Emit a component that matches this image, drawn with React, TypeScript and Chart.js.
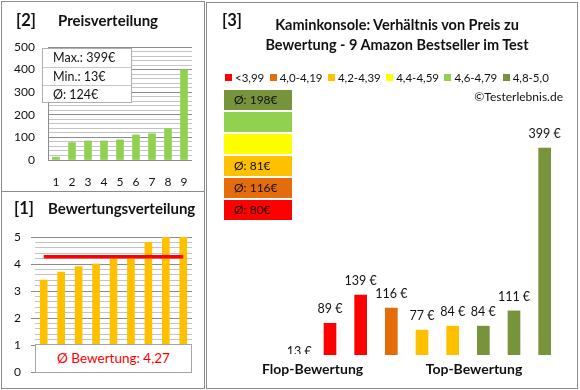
import React, { useEffect, useRef } from 'react';
import { Chart, registerables } from 'chart.js';
Chart.register(...registerables);

// ---------- data ----------
const classLabels = ['<3,99', '4,0-4,19', '4,2-4,39', '4,4-4,59', '4,6-4,79', '4,8-5,0'];
const classColors = ['#FF0000', '#E46C0A', '#FFC000', '#FFFF00', '#92D050', '#77933C'];
const classLower = [0, 4.0, 4.2, 4.4, 4.6, 4.8];
const productRatings = [3.4, 3.7, 3.9, 4.0, 4.2, 4.2, 4.8, 5.0, 5.0];
const productPrices = [13, 89, 139, 116, 77, 84, 84, 111, 399];
const sortedPrices = [13, 77, 84, 84, 89, 111, 116, 139, 399];
const rankLabels = ['1', '2', '3', '4', '5', '6', '7', '8', '9'];
const averageRating = 4.27;
const averageRatingText = '4,27';
const priceAxis = [0, 500];
const ratingAxis = [0, 5];
const mainAxis = [33, 500];
const groupLabels = ['Flop-Bewertung', 'Top-Bewertung'];

const FONT = 'Lato, "Noto Sans", "DejaVu Sans", sans-serif';
const GRID_MAJOR = '#8c8c8c';
const GRID_MINOR = '#c4c4c4';

const classOf = (r: number) => {
  let k = 0;
  classLower.forEach((lo, i) => { if (r >= lo - 1e-9) k = i; });
  return k;
};
const isWhole = (v: number, step: number) => Math.abs(v / step - Math.round(v / step)) < 1e-6;

const priceSummary = {
  max: Math.max(...sortedPrices),
  min: Math.min(...sortedPrices),
  avg: Math.round(sortedPrices.reduce((a, b) => a + b, 0) / sortedPrices.length),
};

const classAverages = classLabels.map((_, k) => {
  const vals = productPrices.filter((_, i) => classOf(productRatings[i]) === k);
  return vals.length ? Math.round(vals.reduce((a, b) => a + b, 0) / vals.length) : null;
});

// ---------- plugins ----------
const avgLinePlugin = {
  id: 'avgLine',
  afterDatasetsDraw(chart: any) {
    const meta = chart.getDatasetMeta(0);
    const first = meta.data[0];
    const last = meta.data[meta.data.length - 1];
    const y = chart.scales.y.getPixelForValue(averageRating);
    const ctx = chart.ctx;
    ctx.save();
    ctx.strokeStyle = '#FF0000';
    ctx.lineWidth = 3.5;
    ctx.beginPath();
    ctx.moveTo(first.x, y);
    ctx.lineTo(last.x, y);
    ctx.stroke();
    ctx.restore();
  },
};

const barLabelPlugin = {
  id: 'barLabels',
  afterDatasetsDraw(chart: any) {
    const { ctx, chartArea } = chart;
    const meta = chart.getDatasetMeta(0);
    const data = chart.data.datasets[0].data;
    ctx.save();
    ctx.beginPath();
    ctx.rect(chartArea.left - 30, chartArea.top - 80, chartArea.right - chartArea.left + 60, chartArea.bottom - chartArea.top + 79);
    ctx.clip();
    ctx.font = `12.5px ${FONT}`;
    ctx.fillStyle = '#111';
    ctx.textAlign = 'center';
    ctx.textBaseline = 'middle';
    meta.data.forEach((bar: any, i: number) => {
      ctx.fillText(`${data[i]} €`, bar.x, bar.y - 14);
    });
    ctx.restore();
  },
};

// ---------- configs ----------
function priceConfig(): any {
  return {
    type: 'bar',
    data: {
      labels: rankLabels,
      datasets: [{ data: sortedPrices, backgroundColor: '#92D050', barThickness: 7 }],
    },
    options: {
      animation: false,
      responsive: false,
      devicePixelRatio: 1,
      layout: { padding: { left: 8, right: 388, top: 47, bottom: 200 } },
      plugins: { legend: { display: false }, tooltip: { enabled: false } },
      scales: {
        x: {
          grid: { display: false, drawTicks: false },
          border: { display: false },
          ticks: { font: { family: FONT, size: 12 }, color: '#111', padding: 15 },
          afterFit: (s: any) => { s.height = 30; },
        },
        y: {
          min: priceAxis[0],
          max: priceAxis[1],
          ticks: {
            stepSize: 20,
            autoSkip: false,
            callback: (v: number) => (isWhole(v, 100) ? String(v) : ''),
            padding: 13,
            font: { family: FONT, size: 12 },
            color: '#111',
          },
          grid: {
            drawTicks: false,
            color: (c: any) => (c.tick && isWhole(c.tick.value, 100) ? GRID_MAJOR : GRID_MINOR),
          },
          border: { display: true, color: GRID_MAJOR },
          afterFit: (s: any) => { s.width = 40; },
        },
      },
    },
  };
}

function ratingConfig(): any {
  return {
    type: 'bar',
    data: {
      labels: rankLabels,
      datasets: [{ data: productRatings, backgroundColor: '#FFC000', barThickness: 7 }],
    },
    plugins: [avgLinePlugin],
    options: {
      animation: false,
      responsive: false,
      devicePixelRatio: 1,
      layout: { padding: { left: 10, right: 388, top: 237, bottom: 18 } },
      plugins: { legend: { display: false }, tooltip: { enabled: false } },
      scales: {
        x: { display: false },
        y: {
          min: ratingAxis[0],
          max: ratingAxis[1],
          ticks: {
            stepSize: 0.2,
            autoSkip: false,
            callback: (v: number) => (isWhole(v, 1) ? String(Math.round(v)) : ''),
            padding: 10,
            font: { family: FONT, size: 12 },
            color: '#111',
          },
          grid: {
            drawTicks: true,
            tickLength: 4,
            color: (c: any) => (c.tick && isWhole(c.tick.value, 1) ? GRID_MAJOR : GRID_MINOR),
            tickColor: (c: any) => (c.tick && isWhole(c.tick.value, 1) ? GRID_MAJOR : 'rgba(0,0,0,0)'),
          },
          border: { display: false },
          afterFit: (s: any) => { s.width = 25; },
        },
      },
    },
  };
}

function mainConfig(): any {
  return {
    type: 'bar',
    data: {
      labels: rankLabels,
      datasets: [{
        data: productPrices,
        backgroundColor: productRatings.map((r) => classColors[classOf(r)]),
        barThickness: 12,
      }],
    },
    plugins: [barLabelPlugin],
    options: {
      animation: false,
      responsive: false,
      devicePixelRatio: 1,
      layout: { padding: { left: 284, right: 20, top: 91, bottom: 35 } },
      plugins: { legend: { display: false }, tooltip: { enabled: false } },
      scales: {
        x: { display: false },
        y: { display: false, min: mainAxis[0], max: mainAxis[1] },
      },
    },
  };
}

// ---------- component ----------
const abs = (extra: React.CSSProperties): React.CSSProperties => ({
  position: 'absolute',
  whiteSpace: 'nowrap',
  fontFamily: FONT,
  color: '#111',
  ...extra,
});

export default function App() {
  const c1 = useRef<HTMLCanvasElement>(null);
  const c2 = useRef<HTMLCanvasElement>(null);
  const c3 = useRef<HTMLCanvasElement>(null);

  useEffect(() => {
    const charts = [
      new Chart(c1.current as HTMLCanvasElement, priceConfig()),
      new Chart(c2.current as HTMLCanvasElement, ratingConfig()),
      new Chart(c3.current as HTMLCanvasElement, mainConfig()),
    ];
    return () => charts.forEach((c) => c.destroy());
  }, []);

  const canvasStyle: React.CSSProperties = { position: 'absolute', left: 0, top: 0, width: 580, height: 390 };
  const border = '1px solid #8c8c8c';

  return (
    <div style={{ position: 'fixed', left: 0, top: 0, width: 580, height: 390, background: '#fff', overflow: 'hidden' }}>
      {/* panel frames */}
      <div style={{ position: 'absolute', left: 1, top: 1, width: 204, height: 191, border, boxSizing: 'border-box' }} />
      <div style={{ position: 'absolute', left: 1, top: 191, width: 204, height: 198, border, boxSizing: 'border-box' }} />
      <div style={{ position: 'absolute', left: 206, top: 2, width: 372, height: 387, border, boxSizing: 'border-box' }} />

      <canvas ref={c1} width={580} height={390} style={canvasStyle} />
      <canvas ref={c2} width={580} height={390} style={canvasStyle} />
      <canvas ref={c3} width={580} height={390} style={canvasStyle} />

      {/* panel 2 */}
      <div style={abs({ left: 16, top: 9, fontSize: 16.5, fontWeight: 700, lineHeight: '22px' })}>[2]</div>
      <div style={abs({ left: 58, top: 10, fontSize: 15, fontWeight: 700, lineHeight: '20px' })}>Preisverteilung</div>
      <div style={abs({ left: 42, top: 48, width: 90, height: 55, background: '#fff', border: '1px solid #b0b0b0', boxSizing: 'border-box', fontSize: 12.5 })}>
        <div style={{ height: 18, lineHeight: '18px', paddingLeft: 10, borderBottom: '1px solid #c8c8c8' }}>Max.: {priceSummary.max}€</div>
        <div style={{ height: 17, lineHeight: '17px', paddingLeft: 10, borderBottom: '1px solid #c8c8c8' }}>Min.: {priceSummary.min}€</div>
        <div style={{ height: 17, lineHeight: '17px', paddingLeft: 10 }}>Ø: {priceSummary.avg}€</div>
      </div>

      {/* panel 1 */}
      <div style={abs({ left: 14, top: 197, fontSize: 16.5, fontWeight: 700, lineHeight: '22px' })}>[1]</div>
      <div style={abs({ left: 48, top: 198, fontSize: 15, fontWeight: 700, lineHeight: '20px' })}>Bewertungsverteilung</div>
      <div style={abs({ left: 35, top: 344, width: 157, height: 29, background: '#fff', border: '1px solid #a6a6a6', boxSizing: 'border-box', color: '#FF0000', fontSize: 13.5, lineHeight: '27px', textAlign: 'center' })}>
        Ø Bewertung: {averageRatingText}
      </div>

      {/* panel 3 */}
      <div style={abs({ left: 222, top: 9, fontSize: 16.5, fontWeight: 700, lineHeight: '22px' })}>[3]</div>
      <div style={abs({ left: 247, top: 15, width: 300, fontSize: 14.5, fontWeight: 700, lineHeight: '20px', textAlign: 'center' })}>
        Kaminkonsole: Verhältnis von Preis zu<br />Bewertung - 9 Amazon Bestseller im Test
      </div>
      <div style={abs({ left: 225, top: 70, height: 14, display: 'flex', alignItems: 'center', fontSize: 11.5 })}>
        {classLabels.map((l, i) => (
          <div key={l} style={{ display: 'flex', alignItems: 'center', marginRight: 5.4 }}>
            <div style={{ width: 7, height: 7, background: classColors[i], marginRight: 3 }} />
            <span>{l}</span>
          </div>
        ))}
      </div>
      <div style={abs({ right: 580 - 563, top: 89, fontSize: 12, lineHeight: '16px' })}>©Testerlebnis.de</div>
      {classLabels.map((l, k) => {
        const idx = classLabels.length - 1 - k;
        const avg = classAverages[idx];
        return (
          <div key={l} style={abs({ left: 224, top: 90 + k * 22, width: 68, height: 20, background: classColors[idx], fontSize: 12, lineHeight: '20px', paddingLeft: 10, boxSizing: 'border-box' })}>
            {avg !== null ? `Ø: ${avg}€` : ''}
          </div>
        );
      })}
      <div style={abs({ left: 262, top: 360, width: 100, textAlign: 'center', fontSize: 14, fontWeight: 700, lineHeight: '18px' })}>{groupLabels[0]}</div>
      <div style={abs({ left: 424, top: 360, width: 100, textAlign: 'center', fontSize: 14, fontWeight: 700, lineHeight: '18px' })}>{groupLabels[1]}</div>
    </div>
  );
}
